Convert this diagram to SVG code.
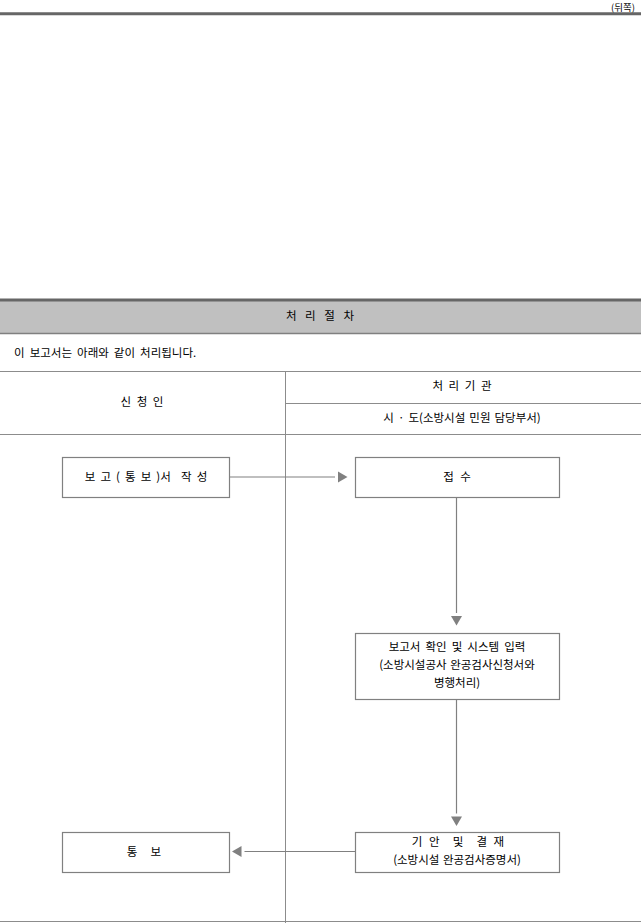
<svg xmlns="http://www.w3.org/2000/svg" width="641" height="923" viewBox="0 0 641 923">
<style>
text{font-family:"Noto Sans CJK KR","Noto Sans",sans-serif;font-size:11.5px;fill:#000;word-spacing:2.5px}
.c{text-anchor:middle}
.pre{white-space:pre}
.rule{stroke:#8c8c8c;stroke-width:1;fill:none}
.thick{stroke:#666;stroke-width:3;fill:none}
.box{fill:#fff;stroke:#808080;stroke-width:1.2}
.conn{stroke:#808080;stroke-width:1.2;fill:none;marker-end:url(#ah)}
</style>
<defs>
<marker id="ah" markerUnits="userSpaceOnUse" viewBox="0 0 13 12" refX="0" refY="6" markerWidth="13" markerHeight="12" orient="auto">
<path d="M3,0.5 L12.5,6 L3,11.5 Z" fill="#808080"/>
</marker>
</defs>
<rect width="641" height="923" fill="#fff"/>
<g id="page-header">
<text x="635" y="11.2" style="text-anchor:end;word-spacing:0;font-size:9.5px">(뒤쪽)</text>
<line class="thick" x1="0" y1="13.8" x2="641" y2="13.8"/>
</g>
<g id="section-title">
<rect x="0" y="301" width="641" height="32" fill="#c0c0c0"/>
<line class="thick" x1="0" y1="300" x2="641" y2="300"/>
<line x1="0" y1="333.5" x2="641" y2="333.5" stroke="#808080" stroke-width="1.5"/>
<text class="c" x="320" y="320" style="word-spacing:6px">처 리 절 차</text>
</g>
<text x="14" y="357">이 보고서는 아래와 같이 처리됩니다.</text>
<g id="table">
<line class="rule" x1="0" y1="371.5" x2="641" y2="371.5"/>
<line class="rule" x1="285.5" y1="403.5" x2="641" y2="403.5"/>
<line class="rule" x1="0" y1="434.5" x2="641" y2="434.5"/>
<line class="rule" x1="285.5" y1="371.5" x2="285.5" y2="923"/>
<line class="rule" x1="0" y1="921.5" x2="641" y2="921.5"/>
<text class="c" x="142" y="406" style="word-spacing:3px">신 청 인</text>
<text class="c" x="462" y="390" style="word-spacing:3px">처 리 기 관</text>
<text class="c" x="462" y="422" style="word-spacing:1.5px">시 · 도(소방시설 민원 담당부서)</text>
</g>
<g id="connectors">
<line class="conn" x1="229" y1="477" x2="335" y2="477"/>
<line class="conn" x1="456.5" y1="497" x2="456.5" y2="613"/>
<line class="conn" x1="456.5" y1="700" x2="456.5" y2="813.5"/>
<line class="conn" x1="355" y1="851.5" x2="244.5" y2="851.5"/>
</g>
<g id="n1">
<rect class="box" x="62.5" y="457.5" width="167" height="40"/>
<text class="c pre" x="146" y="481" style="word-spacing:2.5px">보 고 ( 통 보 )서  작 성</text>
</g>
<g id="n2">
<rect class="box" x="355.5" y="457.5" width="204" height="40"/>
<text class="c" x="457" y="481" style="word-spacing:4px">접 수</text>
</g>
<g id="n3">
<rect class="box" x="355.5" y="633.5" width="204" height="66"/>
<text class="c" x="457" y="651">보고서 확인 및 시스템 입력</text>
<text class="c" x="457" y="669" style="word-spacing:1px">(소방시설공사 완공검사신청서와</text>
<text class="c" x="457" y="687">병행처리)</text>
</g>
<g id="n4">
<rect class="box" x="355.5" y="832.5" width="204" height="40"/>
<text class="c pre" x="458" y="846" style="word-spacing:4px">기 안  및  결 재</text>
<text class="c" x="457" y="864" style="word-spacing:1px">(소방시설 완공검사증명서)</text>
</g>
<g id="n5">
<rect class="box" x="62.5" y="832.5" width="167" height="40"/>
<text class="c pre" x="144" y="856" style="word-spacing:4px">통  보</text>
</g>
</svg>
